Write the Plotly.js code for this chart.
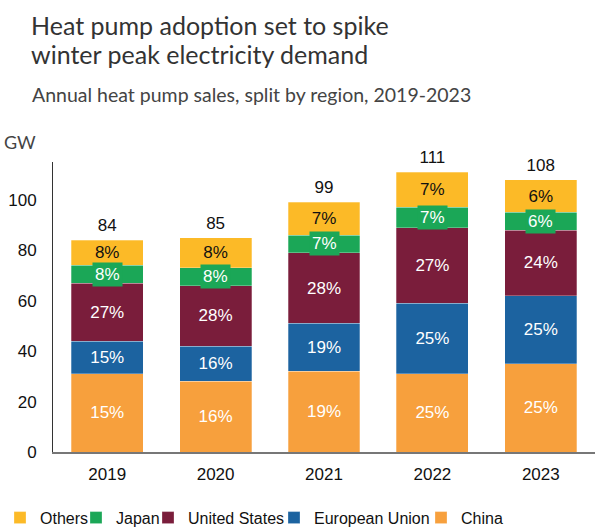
<!DOCTYPE html>
<html>
<head>
<meta charset="utf-8">
<script src="https://cdn.plot.ly/plotly-3.0.1.min.js"></script>
<style>html,body{margin:0;padding:0;background:#fff;}#chart{width:595px;height:529px;}</style>
</head>
<body>
<div id="chart"></div>
<script>
const years = ["2019", "2020", "2021", "2022", "2023"];
const china = [31, 28, 32, 31, 35];
const eu = [13, 14, 19, 28, 27];
const us = [23, 24, 28, 30, 26];
const japan = [7, 7, 7, 8, 7];
const others = [10, 12, 13, 14, 13];
const chinaLabels = ["15%", "16%", "19%", "25%", "25%"];
const euLabels = ["15%", "16%", "19%", "25%", "25%"];
const usLabels = ["27%", "28%", "28%", "27%", "24%"];
const japanLabels = ["8%", "8%", "7%", "7%", "6%"];
const othersLabels = ["8%", "8%", "7%", "7%", "6%"];
const totalLabels = ["84", "85", "99", "111", "108"];

const colors = {
  china: "#F7A03D",
  eu: "#1C63A0",
  us: "#7A1D3B",
  japan: "#1BA757",
  others: "#FCBA27"
};
const arial = "Arial";
const ubu = "Lato, Noto Sans, sans-serif";

function barTrace(name, y, text, color, txtColor, legendId) {
  const t = {
    type: "bar", name: name, x: years, y: y, legend: legendId,
    marker: {color: color, line: {color: "rgba(255,255,255,0.35)", width: 0.8}},
    hoverinfo: "skip"
  };
  if (text) {
    t.text = text;
    t.textposition = "inside";
    t.insidetextanchor = "middle";
    t.constraintext = "none";
    t.textangle = 0;
    t.insidetextfont = {family: arial, size: 17, color: txtColor};
  } else {
    t.textposition = "none";
  }
  return t;
}

const totals = years.map((_, i) => china[i] + eu[i] + us[i] + japan[i] + others[i]);

const traces = [
  barTrace("China", china, chinaLabels, colors.china, "#ffffff", "legend5"),
  barTrace("European Union", eu, euLabels, colors.eu, "#ffffff", "legend4"),
  barTrace("United States", us, usLabels, colors.us, "#ffffff", "legend3"),
  barTrace("Japan", japan, null, colors.japan, "#ffffff", "legend2"),
  barTrace("Others", others, othersLabels, colors.others, "#111111", "legend"),
  {
    type: "scatter", mode: "markers+text", x: years, y: totals, text: totalLabels,
    marker: {size: 6, opacity: 0},
    textposition: "top center", textfont: {family: arial, size: 17, color: "#111"},
    showlegend: false, hoverinfo: "skip", cliponaxis: false
  }
];

const annotations = [
  {text: "Heat pump adoption set to spike", xref: "paper", yref: "paper", x: -0.044, y: 1.472,
   xanchor: "left", yanchor: "middle", showarrow: false, font: {family: ubu, size: 25, color: "#333"}},
  {text: "winter peak electricity demand", xref: "paper", yref: "paper", x: -0.044, y: 1.374,
   xanchor: "left", yanchor: "middle", showarrow: false, font: {family: ubu, size: 25, color: "#333"}},
  {text: "Annual heat pump sales, split by region, 2019-2023", xref: "paper", yref: "paper", x: -0.042, y: 1.233,
   xanchor: "left", yanchor: "middle", showarrow: false, font: {family: ubu, size: 19.5, color: "#444"}},
  {text: "GW", xref: "paper", yref: "paper", x: -0.094, y: 1.07,
   xanchor: "left", yanchor: "middle", showarrow: false, font: {family: ubu, size: 18, color: "#444"}}
];
years.forEach((yr, i) => {
  annotations.push({
    text: japanLabels[i], x: i, y: china[i] + eu[i] + us[i] + japan[i] / 2,
    xref: "x", yref: "y", showarrow: false, bgcolor: colors.japan, borderpad: 2,
    font: {family: arial, size: 17, color: "#fff"}
  });
});

function legendAt(px) {
  return {orientation: "h", xref: "container", yref: "container", x: px / 595, xanchor: "left",
          y: 0.0214, yanchor: "middle", bgcolor: "rgba(0,0,0,0)",
          font: {family: arial, size: 16, color: "#111"}, itemwidth: 30};
}

const layout = {
  width: 595, height: 529,
  margin: {l: 53, r: 0, t: 162, b: 77, autoexpand: false},
  paper_bgcolor: "#fff", plot_bgcolor: "#fff",
  barmode: "stack", bargap: 0.336,
  showlegend: true,
  legend: legendAt(0),
  legend2: legendAt(76),
  legend3: legendAt(148),
  legend4: legendAt(274),
  legend5: legendAt(421),
  xaxis: {type: "category", showline: true, linecolor: "#777", linewidth: 1.5, ticks: "", showgrid: false,
          tickfont: {family: arial, size: 17, color: "#111"}, ticklabelstandoff: 6, fixedrange: true},
  yaxis: {range: [0, 115], showline: true, linecolor: "#333", linewidth: 1, ticks: "", showgrid: false, zeroline: false,
          tickvals: [0, 20, 40, 60, 80, 100], tickfont: {family: arial, size: 17, color: "#111"},
          ticklabelstandoff: 12, fixedrange: true},
  annotations: annotations
};

Plotly.newPlot("chart", traces, layout, {displayModeBar: false, staticPlot: true});
</script>
</body>
</html>
